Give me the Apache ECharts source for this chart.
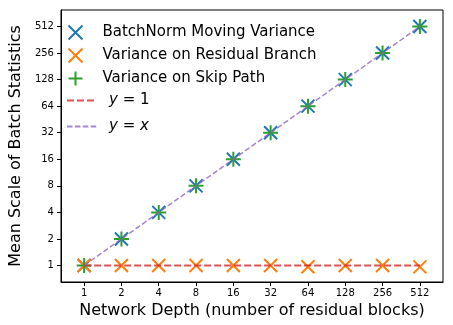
<!DOCTYPE html>
<html>
<head>
<meta charset="utf-8">
<script src="https://cdn.jsdelivr.net/npm/echarts@6/dist/echarts.min.js"></script>
<style>
  html, body { margin: 0; padding: 0; background: #fff; }
  #main { width: 453px; height: 325px; }
</style>
</head>
<body>
<div id="main"></div>
<script>
// network depths (number of residual blocks)
var depths = [1, 2, 4, 8, 16, 32, 64, 128, 256, 512];
var bnMovingVar = [1, 2, 4, 8, 16, 32, 64, 128, 256, 512];
var residualVar = [1.0, 1.0, 1.0, 1.0, 1.0, 1.0, 0.97, 1.0, 1.0, 0.965];
var skipVar = [1, 2, 4, 8, 16, 32, 64, 128, 256, 512];
var tickValues = [1, 2, 4, 8, 16, 32, 64, 128, 256, 512];

var FONT = 'DejaVu Sans';
var xMark = 'path://M0,0L10,10M10,0L0,10';
var plusMark = 'path://M5,0L5,10M0,5L10,5';

function pairs(xs, ys) {
    return xs.map(function (x, i) { return [x, ys[i]]; });
}

function legendText() {
    return {
        color: '#000', fontFamily: FONT, fontSize: 15, padding: [0, 0, 0, 7],
        rich: {
            i: { fontStyle: 'italic', fontFamily: FONT, fontSize: 15 },
            m: { fontFamily: FONT, fontSize: 15 }
        }
    };
}

var myChart = echarts.init(document.getElementById('main'));

var axisCommon = {
    type: 'log',
    logBase: 2,
    min: Math.pow(2, -0.62),
    max: Math.pow(2, 9.62),
    splitLine: { show: false },
    axisLine: { show: true, onZero: false, lineStyle: { color: '#000', width: 1 } },
    axisTick: { show: true, inside: false, length: 4, lineStyle: { color: '#000' }, customValues: tickValues },
    axisLabel: { color: '#000', fontFamily: FONT, fontSize: 10, customValues: tickValues },
    nameLocation: 'middle',
    nameTextStyle: { color: '#000', fontFamily: FONT, fontSize: 16 }
};

var option = {
    animation: false,
    grid: {
        left: 52, right: 10, top: 10, bottom: 43,
        show: true, borderColor: '#000', borderWidth: 1
    },
    legend: [
        {
            orient: 'vertical',
            left: 61,
            top: 18,
            itemWidth: 30,
            itemHeight: 14,
            itemGap: 4,
            textStyle: legendText(),
            formatter: function (name) { return name; },
            data: [
                { name: 'BatchNorm Moving Variance' },
                { name: 'Variance on Residual Branch' },
                { name: 'Variance on Skip Path' }
            ]
        },
        {
            // reference lines (mathtext rows sit a bit further apart)
            orient: 'vertical',
            left: 61,
            top: 88,
            itemWidth: 30,
            itemHeight: 14,
            itemGap: 11,
            textStyle: legendText(),
            formatter: function (name) {
                if (name === 'y=1') return '{i|y}{m| = 1}';
                return '{i|y}{m| = }{i|x}';
            },
            data: [
                { name: 'y=1', itemStyle: { opacity: 0 } },
                { name: 'y=x', itemStyle: { opacity: 0 } }
            ]
        }
    ],
    xAxis: Object.assign({}, axisCommon, {
        name: 'Network Depth (number of residual blocks)',
        nameGap: 20,
        axisLabel: Object.assign({}, axisCommon.axisLabel, { margin: 6 })
    }),
    yAxis: Object.assign({}, axisCommon, {
        name: 'Mean Scale of Batch Statistics',
        nameGap: 30,
        axisLabel: Object.assign({}, axisCommon.axisLabel, { margin: 7 })
    }),
    series: [
        {
            name: 'BatchNorm Moving Variance',
            type: 'scatter',
            symbol: xMark,
            symbolSize: 13,
            symbolKeepAspect: true,
            itemStyle: { color: 'none', borderColor: '#1f77b4', borderWidth: 2, opacity: 1 },
            z: 2,
            data: pairs(depths, bnMovingVar)
        },
        {
            name: 'Variance on Residual Branch',
            type: 'scatter',
            symbol: xMark,
            symbolSize: 13,
            symbolKeepAspect: true,
            itemStyle: { color: 'none', borderColor: '#ff7f0e', borderWidth: 2, opacity: 1 },
            z: 3,
            data: pairs(depths, residualVar)
        },
        {
            name: 'Variance on Skip Path',
            type: 'scatter',
            symbol: plusMark,
            symbolSize: 15,
            symbolKeepAspect: true,
            itemStyle: { color: 'none', borderColor: '#2ca02c', borderWidth: 2, opacity: 1 },
            z: 4,
            data: pairs(depths, skipVar)
        },
        {
            name: 'y=1',
            type: 'line',
            symbol: 'none',
            z: 5,
            color: 'rgba(214,39,40,0.8)',
            lineStyle: { color: 'rgba(214,39,40,0.8)', width: 2, type: [7, 3] },
            data: pairs(depths, depths.map(function () { return 1; }))
        },
        {
            name: 'y=x',
            type: 'line',
            symbol: 'none',
            z: 6,
            color: 'rgba(148,103,189,0.8)',
            lineStyle: { color: 'rgba(148,103,189,0.8)', width: 1.5, type: [5.5, 2.4] },
            data: pairs(depths, depths)
        }
    ]
};

myChart.setOption(option);
</script>
</body>
</html>
